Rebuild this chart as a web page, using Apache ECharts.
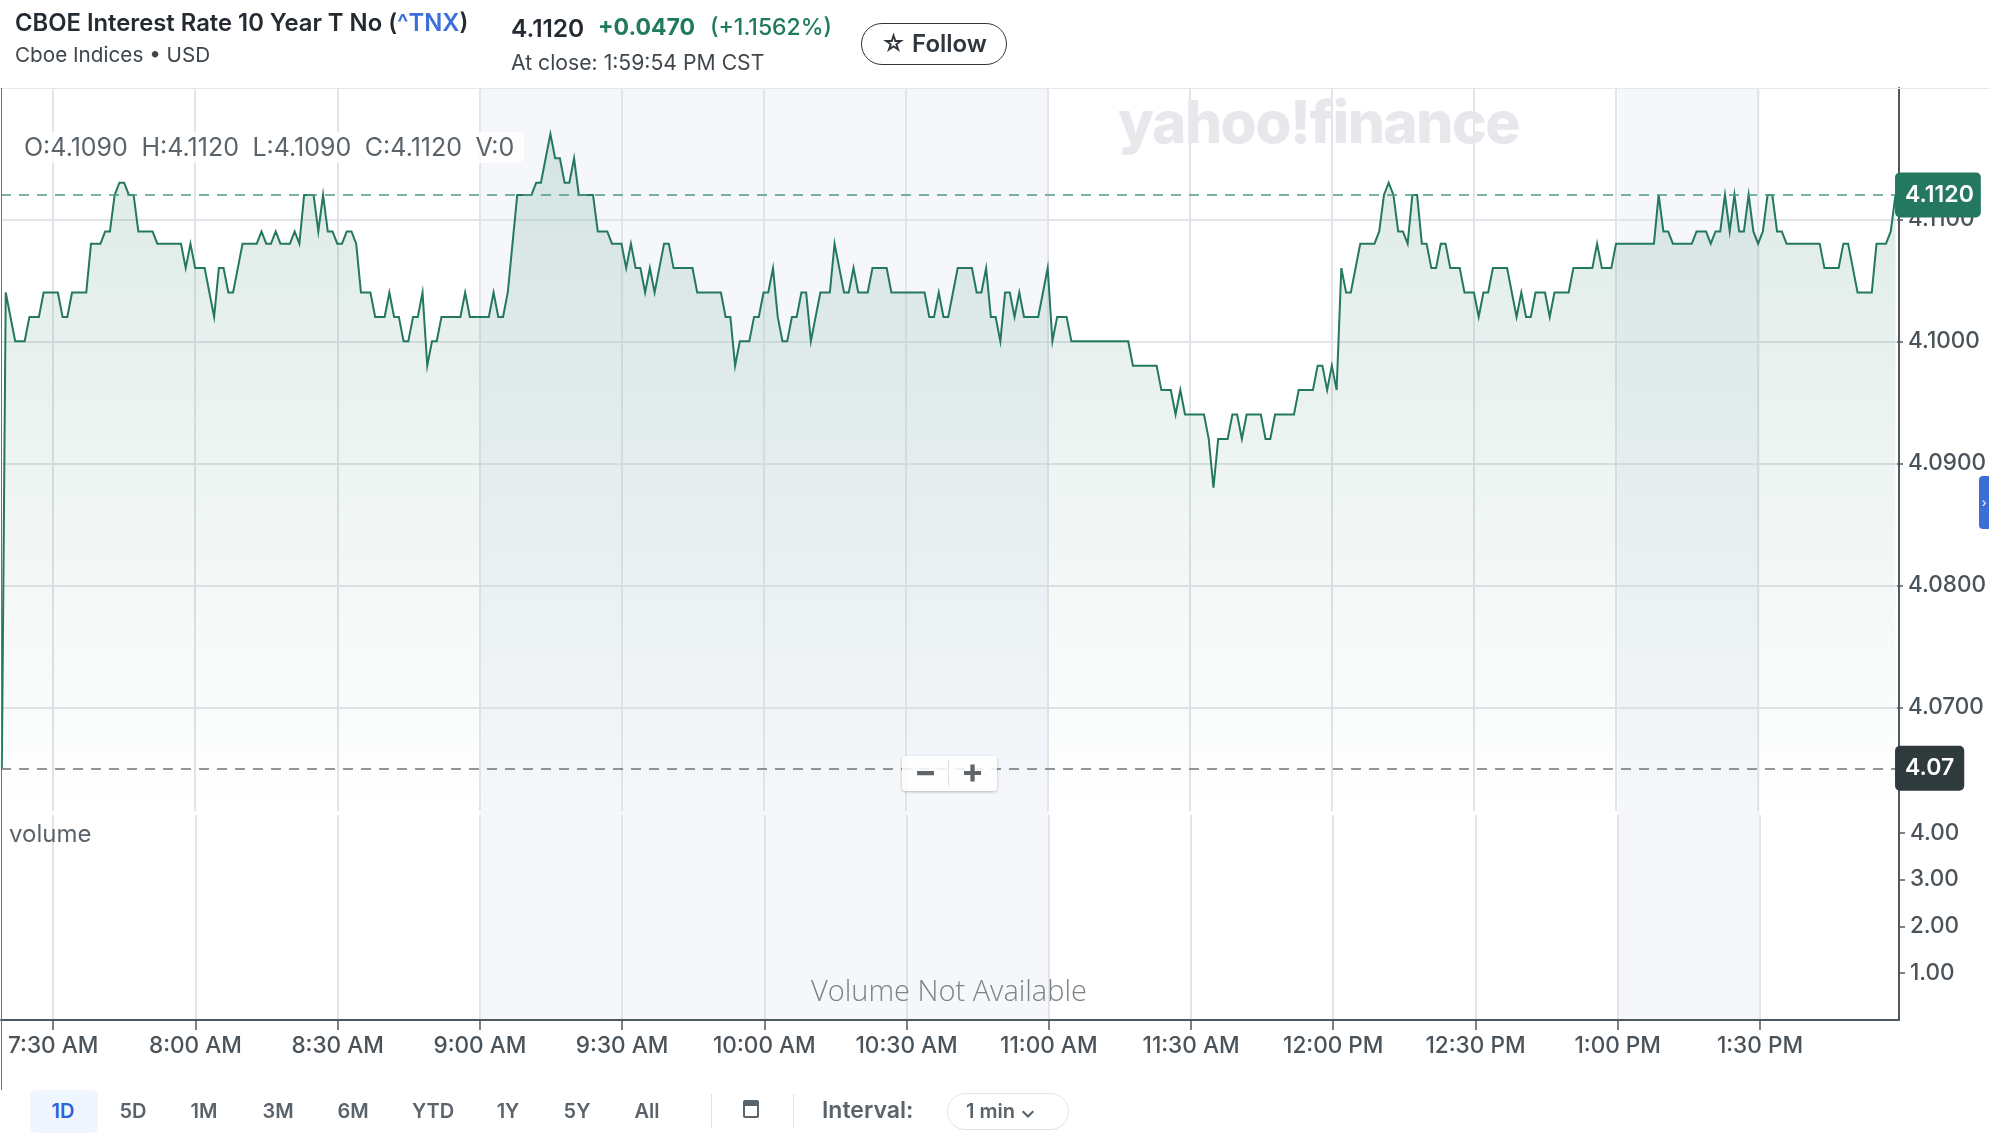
<!DOCTYPE html>
<html>
<head>
<meta charset="utf-8">
<title>^TNX</title>
<script src="https://cdn.jsdelivr.net/npm/echarts@6/dist/echarts.min.js"></script>
<style>
  html, body { margin: 0; padding: 0; background: #fff; width: 1989px; height: 1137px; overflow: hidden; }
  body { font-family: Inter, "Noto Sans", sans-serif; color: #232a31; }
  #chart { position: absolute; left: 0; top: 0; width: 1989px; height: 1137px; }
  .t { position: absolute; white-space: nowrap; line-height: 1; }
  .green { color: #1f7a5f; }
  #ohlc { left: 14px; top: 132px; height: 31px; padding: 0 10px; line-height: 31px; background: rgba(255,255,255,.85);
          border-radius: 6px; font-size: 25px; color: #5b636a; word-spacing: 6.5px; }
  #watermark { left: 1118px; top: 93px; font-size: 58.5px; font-weight: 800; color: #e6e8eb; letter-spacing: -1.5px; }
  #zoomer { position: absolute; left: 902px; top: 756px; width: 95px; height: 35px; background: rgba(255,255,255,.86);
            border-radius: 4px; box-shadow: 0 1px 3px rgba(0,0,0,.25); color: #5f6468; font-size: 34px; font-weight: 700; }
  #zoomer span { position: absolute; top: -3px; line-height: 35px; }
  #zoomer i { position: absolute; left: 46px; top: 4px; width: 1px; height: 27px; background: #dfe1e4; }
  #follow { position: absolute; left: 861px; top: 23px; width: 144px; height: 40px; border: 1.5px solid #2f363c; border-radius: 21px;
            font-size: 24px; font-weight: 600; line-height: 40px; text-align: center; color: #2f363c; }
  #tab { position: absolute; left: 1979px; top: 476px; width: 10px; height: 53px; background: #3b6fd6; border-radius: 4px 0 0 4px;
         color: #fff; font-size: 12px; line-height: 53px; text-align: center; }
  #edge { position: absolute; left: 1px; top: 88px; width: 1px; height: 1002px; background: #4a74cf; }
  #rule { position: absolute; left: 0; top: 88px; width: 1989px; height: 1px; background: #e5e7eb; }
  .rng { position: absolute; top: 1099px; font-size: 20px; font-weight: 600; color: #5b636a; transform: translateX(-50%); line-height: 24px; }
  #d1 { position: absolute; left: 30px; top: 1090px; width: 68px; height: 43px; background: #f0f6ff; border-radius: 6px; }
  .div { position: absolute; top: 1094px; width: 1px; height: 34px; background: #dfe2e6; }
  #cal { position: absolute; left: 743px; top: 1100px; width: 16px; height: 18px; border: 2px solid #5b636a; border-top-width: 6px; border-radius: 2px; box-sizing: border-box; }
  #pill { position: absolute; left: 947px; top: 1093px; width: 122px; height: 37px; border: 1.5px solid #e0e3e6; border-radius: 19px;
          font-size: 20px; font-weight: 600; line-height: 34px; color: #5b636a; text-indent: 18px; box-sizing: border-box; }
</style>
</head>
<body>
<div id="chart"></div>

<div id="rule"></div>
<div id="edge"></div>
<div class="t" style="left:15px;top:11px;font-size:23.8px;font-weight:600">CBOE Interest Rate 10 Year T No (<span style="color:#3d6fdc">^TNX</span>)</div>
<div class="t" style="left:15px;top:45px;font-size:20.7px;color:#3f464c">Cboe Indices • USD</div>
<div class="t" style="left:511px;top:16px;font-size:24.5px;font-weight:600">4.1120</div>
<div class="t green" style="left:598px;top:16px;font-size:23px;font-weight:700">+0.0470</div>
<div class="t green" style="left:710px;top:16px;font-size:23px;font-weight:500">(+1.1562%)</div>
<div class="t" style="left:511px;top:52px;font-size:21.2px;color:#3f464c">At close: 1:59:54 PM CST</div>
<div id="follow">☆ Follow</div>

<div class="t" id="watermark">yahoo!finance</div>
<div class="t" id="ohlc">O:4.1090 H:4.1120 L:4.1090 C:4.1120 V:0</div>
<div class="t" style="left:9px;top:822px;font-size:24px;color:#5b636a">volume</div>
<div class="t" style="left:811px;top:975px;font-size:29px;font-family:'Open Sans';font-weight:300;color:#7d8286">Volume Not Available</div>
<div id="zoomer"><span style="left:12px">−</span><i></i><span style="left:59px">+</span></div>
<div id="tab">›</div>

<div id="d1"></div>
<div class="rng" style="left:63px;color:#2f62d8">1D</div>
<div class="rng" style="left:133px">5D</div>
<div class="rng" style="left:204px">1M</div>
<div class="rng" style="left:278px">3M</div>
<div class="rng" style="left:353px">6M</div>
<div class="rng" style="left:433px">YTD</div>
<div class="rng" style="left:508px">1Y</div>
<div class="rng" style="left:577px">5Y</div>
<div class="rng" style="left:647px">All</div>
<div class="div" style="left:711px"></div>
<div id="cal"></div>
<div class="div" style="left:793px"></div>
<div class="t" style="left:822px;top:1099px;font-size:23px;font-weight:600;color:#5b636a">Interval:</div>
<div id="pill">1 min ⌄</div>

<script>
// first close sits at 7:20, then one value per minute up to 1:59 PM
const startMinute = 440;
const prevClose = 4.065;
const lastPrice = 4.112;
const priceValues = [
  4.104,4.102,4.100,4.100,4.100,4.102,4.102,4.102,4.104,4.104,
  4.104,4.104,4.102,4.102,4.104,4.104,4.104,4.104,4.108,4.108,
  4.108,4.109,4.109,4.112,4.113,4.113,4.112,4.112,4.109,4.109,
  4.109,4.109,4.108,4.108,4.108,4.108,4.108,4.108,4.106,4.108,
  4.106,4.106,4.106,4.104,4.102,4.106,4.106,4.104,4.104,4.106,
  4.108,4.108,4.108,4.108,4.109,4.108,4.108,4.109,4.108,4.108,
  4.108,4.109,4.108,4.112,4.112,4.112,4.109,4.112,4.109,4.109,
  4.108,4.108,4.109,4.109,4.108,4.104,4.104,4.104,4.102,4.102,
  4.102,4.104,4.102,4.102,4.100,4.100,4.102,4.102,4.104,4.098,
  4.100,4.100,4.102,4.102,4.102,4.102,4.102,4.104,4.102,4.102,
  4.102,4.102,4.102,4.104,4.102,4.102,4.104,4.108,4.112,4.112,
  4.112,4.112,4.113,4.113,4.115,4.117,4.115,4.115,4.113,4.113,
  4.115,4.112,4.112,4.112,4.112,4.109,4.109,4.109,4.108,4.108,
  4.108,4.106,4.108,4.106,4.106,4.104,4.106,4.104,4.106,4.108,
  4.108,4.106,4.106,4.106,4.106,4.106,4.104,4.104,4.104,4.104,
  4.104,4.104,4.102,4.102,4.098,4.100,4.100,4.100,4.102,4.102,
  4.104,4.104,4.106,4.102,4.100,4.100,4.102,4.102,4.104,4.104,
  4.100,4.102,4.104,4.104,4.104,4.108,4.106,4.104,4.104,4.106,
  4.104,4.104,4.104,4.106,4.106,4.106,4.106,4.104,4.104,4.104,
  4.104,4.104,4.104,4.104,4.104,4.102,4.102,4.104,4.102,4.102,
  4.104,4.106,4.106,4.106,4.106,4.104,4.104,4.106,4.102,4.102,
  4.100,4.104,4.104,4.102,4.104,4.102,4.102,4.102,4.102,4.104,
  4.106,4.100,4.102,4.102,4.102,4.100,4.100,4.100,4.100,4.100,
  4.100,4.100,4.100,4.100,4.100,4.100,4.100,4.100,4.098,4.098,
  4.098,4.098,4.098,4.098,4.096,4.096,4.096,4.094,4.096,4.094,
  4.094,4.094,4.094,4.094,4.092,4.088,4.092,4.092,4.092,4.094,
  4.094,4.092,4.094,4.094,4.094,4.094,4.092,4.092,4.094,4.094,
  4.094,4.094,4.094,4.096,4.096,4.096,4.096,4.098,4.098,4.096,
  4.098,4.096,4.106,4.104,4.104,4.106,4.108,4.108,4.108,4.108,
  4.109,4.112,4.113,4.112,4.109,4.109,4.108,4.112,4.112,4.108,
  4.108,4.106,4.106,4.108,4.108,4.106,4.106,4.106,4.104,4.104,
  4.104,4.102,4.104,4.104,4.106,4.106,4.106,4.106,4.104,4.102,
  4.104,4.102,4.102,4.104,4.104,4.104,4.102,4.104,4.104,4.104,
  4.104,4.106,4.106,4.106,4.106,4.106,4.108,4.106,4.106,4.106,
  4.108,4.108,4.108,4.108,4.108,4.108,4.108,4.108,4.108,4.112,
  4.109,4.109,4.108,4.108,4.108,4.108,4.108,4.109,4.109,4.109,
  4.108,4.109,4.109,4.112,4.109,4.112,4.109,4.109,4.112,4.109,
  4.108,4.109,4.112,4.112,4.109,4.109,4.108,4.108,4.108,4.108,
  4.108,4.108,4.108,4.108,4.106,4.106,4.106,4.106,4.108,4.108,
  4.106,4.104,4.104,4.104,4.104,4.108,4.108,4.108,4.109,4.112
];
const volumeValues = [];                 // feed has no volume for an index
const timeTicks = [450,480,510,540,570,600,630,660,690,720,750,780,810];
const priceTicks = [4.07,4.08,4.09,4.10,4.11];
const volumeTicks = [1,2,3,4];
const shadedSpans = [[540,660],[780,810]];

const GREEN = '#23785f';
const AXIS = '#50585f';
const GRID = '#e2e4e9';
const LABEL = '#4b535a';

function minuteLabel(m) {
  const h = Math.floor(m / 60);
  const mm = String(m % 60).padStart(2, '0');
  return (h % 12 || 12) + ':' + mm + (h < 12 ? ' AM' : ' PM');
}

// line climbs in from the previous close just before the open
const priceLine = [[439.18, prevClose]].concat(priceValues.map((v, i) => [startMinute + i, v]));

const xRange = { min: 439, max: 839.33 };
const sharedGrid = { left: 1, right: 90 };
const grid = [
  { ...sharedGrid, top: 88, height: 723 },
  { ...sharedGrid, top: 815, height: 205 },
  { ...sharedGrid, top: 88, height: 932 },
];

const chart = echarts.init(document.getElementById('chart'), null, { renderer: 'canvas' });

chart.setOption({
  animation: false,
  textStyle: { fontFamily: 'Inter, "Noto Sans", sans-serif' },
  grid,
  xAxis: [
    {
      gridIndex: 0, type: 'value', ...xRange,
      axisLine: { show: false },
      axisTick: { show: false, customValues: timeTicks },
      axisLabel: { show: false, customValues: timeTicks },
      splitLine: { show: true, lineStyle: { color: GRID, width: 2 } },
    },
    {
      gridIndex: 1, type: 'value', ...xRange,
      axisLine: { show: true, onZero: false, lineStyle: { color: AXIS, width: 2 } },
      axisTick: { show: true, length: 10, lineStyle: { color: AXIS, width: 1.5 }, customValues: timeTicks },
      axisLabel: {
        show: true, margin: 15, fontSize: 22.6, fontWeight: 500, color: LABEL,
        customValues: timeTicks, formatter: minuteLabel,
      },
      splitLine: { show: true, lineStyle: { color: GRID, width: 2 } },
    },
    { gridIndex: 2, type: 'value', ...xRange, show: false },
  ],
  yAxis: [
    {
      gridIndex: 0, type: 'value', position: 'right', min: 4.0615, max: 4.12076,
      axisLine: { show: false },
      axisTick: { show: true, length: 6, lineStyle: { color: AXIS, width: 1.5 }, customValues: priceTicks },
      axisLabel: {
        show: true, margin: 11, fontSize: 22.5, fontWeight: 500, color: LABEL,
        customValues: priceTicks, formatter: (v) => v.toFixed(4),
      },
      splitLine: { show: true, lineStyle: { color: GRID, width: 2 } },
    },
    {
      gridIndex: 1, type: 'value', position: 'right', min: 0, max: 4.38,
      axisLine: { show: false },
      axisTick: { show: true, length: 6, lineStyle: { color: AXIS, width: 1.5 }, customValues: volumeTicks },
      axisLabel: {
        show: true, margin: 11, fontSize: 22.5, fontWeight: 500, color: LABEL,
        customValues: volumeTicks, formatter: (v) => v.toFixed(2),
      },
      splitLine: { show: false },
    },
    {
      gridIndex: 2, type: 'value', position: 'right', min: 0, max: 1,
      axisLine: { show: true, onZero: false, lineStyle: { color: AXIS, width: 2 } },
      axisTick: { show: false },
      axisLabel: { show: false },
      splitLine: { show: false },
    },
  ],
  series: [
    {
      name: 'sessions', type: 'line', xAxisIndex: 2, yAxisIndex: 2, data: [], z: 0,
      markArea: {
        silent: true, z: -1,
        itemStyle: { color: '#f5f7fb' },
        data: shadedSpans.map(([a, b]) => [{ xAxis: a }, { xAxis: b }]),
      },
    },
    {
      name: 'price', type: 'line', xAxisIndex: 0, yAxisIndex: 0, data: priceLine,
      showSymbol: false, z: 3,
      lineStyle: { color: GREEN, width: 2, join: 'miter', miterLimit: 8 },
      itemStyle: { color: GREEN },
      areaStyle: {
        color: new echarts.graphic.LinearGradient(0, 0, 0, 1, [
          { offset: 0, color: 'rgba(35,120,95,0.22)' },
          { offset: 1, color: 'rgba(35,120,95,0)' },
        ]),
      },
      markLine: {
        silent: true, symbol: 'none', animation: false, precision: 4,
        data: [
          {
            yAxis: lastPrice,
            lineStyle: { color: '#4f9a85', type: [10, 8], width: 1.5 },
            label: {
              show: true, position: 'end', distance: -2, formatter: lastPrice.toFixed(4),
              color: '#fff', fontSize: 23, fontWeight: 600, backgroundColor: GREEN,
              borderRadius: 5, padding: [12, 7, 10, 10],
            },
          },
          {
            yAxis: prevClose,
            lineStyle: { color: '#6d7378', type: [10, 8], width: 1.5 },
            label: {
              show: true, position: 'end', distance: -2, formatter: '4.07',
              color: '#fff', fontSize: 23, fontWeight: 600, backgroundColor: '#2f3a3d',
              borderRadius: 5, padding: [12, 10, 10, 10],
            },
          },
        ],
      },
    },
    { name: 'volume', type: 'bar', xAxisIndex: 1, yAxisIndex: 1, data: volumeValues },
  ],
});

window.addEventListener('resize', () => chart.resize());
</script>
</body>
</html>
